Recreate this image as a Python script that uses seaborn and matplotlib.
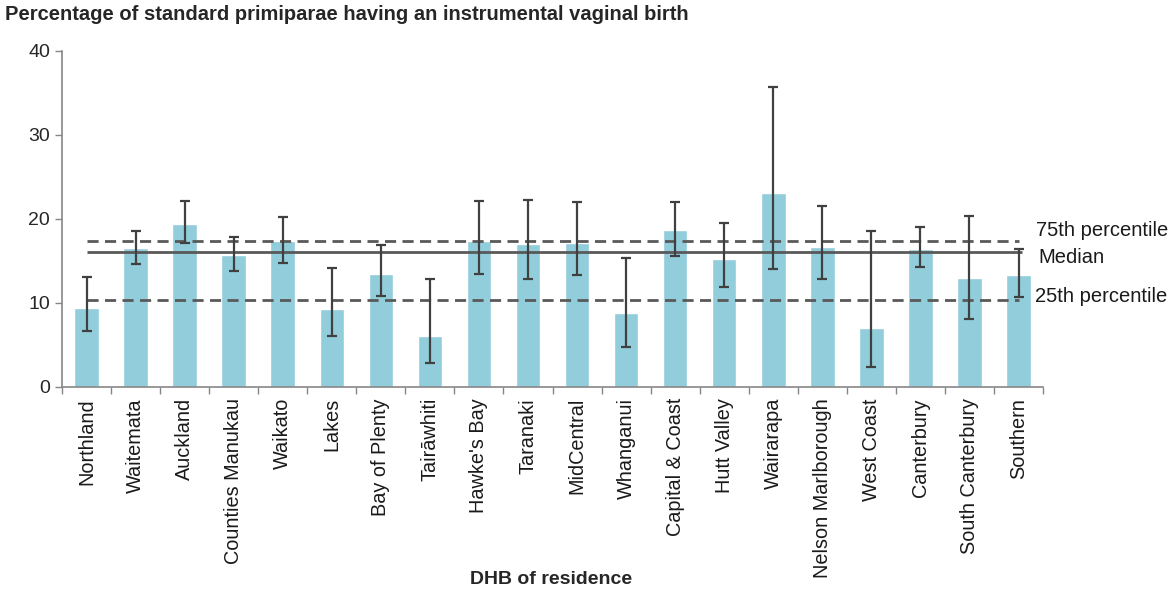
import numpy as np
import pandas as pd
import matplotlib
matplotlib.use("Agg")
import matplotlib.pyplot as plt
import seaborn as sns

# DHB values
dhbs = ["Northland", "Waitemata", "Auckland", "Counties Manukau", "Waikato", "Lakes",
        "Bay of Plenty", "Tairāwhiti", "Hawke's Bay", "Taranaki", "MidCentral",
        "Whanganui", "Capital & Coast", "Hutt Valley", "Wairarapa", "Nelson Marlborough",
        "West Coast", "Canterbury", "South Canterbury", "Southern"]
pct = [9.4, 16.5, 19.4, 15.7, 17.4, 9.3, 13.5, 6.1, 17.4, 17.0,
       17.1, 8.8, 18.7, 15.2, 23.1, 16.7, 7.0, 16.4, 13.0, 13.3]
ci_low = [6.7, 14.6, 17.2, 13.8, 14.8, 6.1, 10.8, 2.9, 13.5, 12.9,
          13.3, 4.8, 15.6, 11.9, 14.1, 12.8, 2.4, 14.3, 8.1, 10.7]
ci_high = [13.1, 18.6, 22.1, 17.8, 20.2, 14.2, 16.9, 12.8, 22.1, 22.3,
           22.0, 15.3, 22.0, 19.5, 35.7, 21.5, 18.6, 19.0, 20.4, 16.4]
p25 = 10.3
median = 16.05
p75 = 17.35

df = pd.DataFrame({"DHB": dhbs, "pct": pct, "lo": ci_low, "hi": ci_high})

sns.set_style("white")
plt.rcParams['font.family'] = ['Liberation Sans', 'DejaVu Sans']

fig = plt.figure(figsize=(11.7, 5.93), dpi=100)
ax = fig.add_axes([0.053, 0.3474, 0.8385, 0.5666])

sns.barplot(data=df, x="DHB", y="pct", color="#92CDDC", saturation=1, width=0.5,
            errorbar=None, ax=ax)

xs = np.arange(len(dhbs))
ax.errorbar(xs, df["pct"], yerr=[df["pct"] - df["lo"], df["hi"] - df["pct"]],
            fmt="none", ecolor="#404040", elinewidth=1.6, capsize=3.8, capthick=1.6, zorder=4)

line_col = "#595959"
ax.hlines(p75, xs[0], xs[-1], colors=line_col, linestyles=(0, (4, 2.3)), linewidth=2.0, zorder=3)
ax.hlines(p25, xs[0], xs[-1], colors=line_col, linestyles=(0, (4, 2.3)), linewidth=2.0, zorder=3)
ax.hlines(median, xs[0], xs[-1] + 0.08, colors=line_col, linestyles="solid", linewidth=2.0, zorder=3)

ax.text(xs[-1] + 0.36, p75 + 1.3, "75th percentile", fontsize=14.5, color="#1a1a1a", va="center")
ax.text(xs[-1] + 0.40, median - 0.6, "Median", fontsize=14.5, color="#1a1a1a", va="center")
ax.text(xs[-1] + 0.33, p25 + 0.5, "25th percentile", fontsize=14.5, color="#1a1a1a", va="center")

ax.set_ylim(0, 40)
ax.set_xlim(-0.5, len(dhbs) - 0.5)
ax.set_yticks([0, 10, 20, 30, 40])
ax.tick_params(axis="y", labelsize=14, labelcolor="#262626", length=5, width=1, direction="out",
               left=True, color="#868686")
ax.set_xticks(xs)
ax.set_xticklabels(dhbs, rotation=90, fontsize=14.3, color="#1a1a1a")
ax.tick_params(axis="x", length=0, pad=8)
ax.set_xticks(np.arange(-0.5, len(dhbs)), minor=True)
ax.tick_params(axis="x", which="minor", length=5, width=1, color="#868686", direction="out", bottom=True)

for s in ["top", "right"]:
    ax.spines[s].set_visible(False)
for s in ["left", "bottom"]:
    ax.spines[s].set_color("#868686")
    ax.spines[s].set_linewidth(1.2)

ax.set_xlabel("")
ax.set_ylabel("")
fig.text(0.004, 0.975, "Percentage of standard primiparae having an instrumental vaginal birth",
         fontsize=14.5, fontweight="bold", color="#262626", va="center", ha="left")
fig.text(0.471, 0.022, "DHB of residence", fontsize=14, fontweight="bold", color="#262626",
         ha="center", va="center")

fig.savefig("out.png", dpi=100)
